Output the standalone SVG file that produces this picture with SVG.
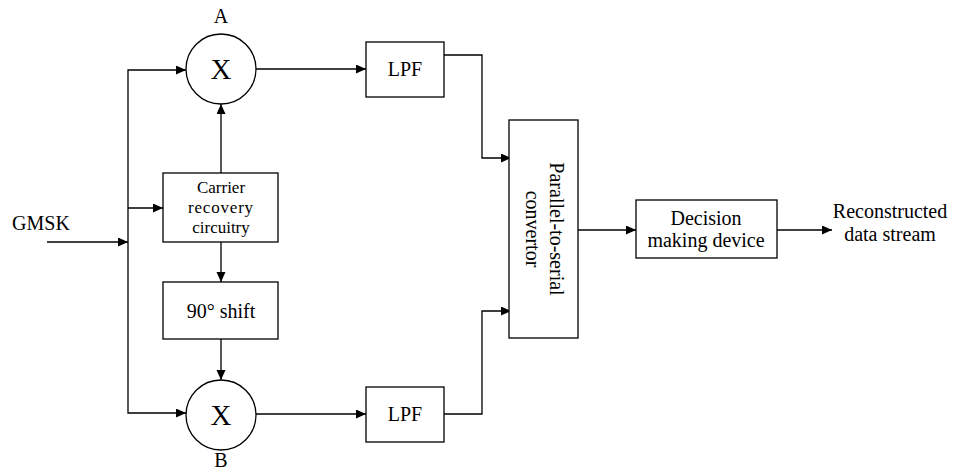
<svg xmlns="http://www.w3.org/2000/svg" width="953" height="472" viewBox="0 0 953 472" font-family="'Liberation Serif','Times New Roman',serif">
<style>
.n{fill:#fff;stroke:#000;stroke-width:1.3}
.c{fill:none;stroke:#000;stroke-width:1.3}
text{font-family:"Liberation Serif","Times New Roman",serif;fill:#000;text-anchor:middle}
.t20{font-size:20px}
.t17{font-size:17px}
.tx{font-size:29px}
</style>
<defs>
<marker id="ar" markerUnits="userSpaceOnUse" markerWidth="11" markerHeight="10" refX="10" refY="4.5" orient="auto">
<path d="M0,0 L10,4.5 L0,9 z" fill="#000"/>
</marker>
</defs>
<rect width="953" height="472" fill="#fff"/>
<g id="connectors">
<path class="c" d="M47,242 H128" marker-end="url(#ar)"/>
<path class="c" d="M128,242 V70 H186" marker-end="url(#ar)"/>
<path class="c" d="M128,242 V413 H186" marker-end="url(#ar)"/>
<path class="c" d="M128,208 H163" marker-end="url(#ar)"/>
<path class="c" d="M221,173 V104" marker-end="url(#ar)"/>
<path class="c" d="M221,242 V282" marker-end="url(#ar)"/>
<path class="c" d="M221,339 V380" marker-end="url(#ar)"/>
<path class="c" d="M256,69 H366" marker-end="url(#ar)"/>
<path class="c" d="M256,414 H366" marker-end="url(#ar)"/>
<path class="c" d="M444,55 H482 V158 H511" marker-end="url(#ar)"/>
<path class="c" d="M444,414 H482 V311 H511" marker-end="url(#ar)"/>
<path class="c" d="M578,230 H636" marker-end="url(#ar)"/>
<path class="c" d="M777,230 H832" marker-end="url(#ar)"/>
</g>
<g id="gmsk"><text class="t20" x="41" y="230">GMSK</text></g>
<g id="mixerA">
<circle class="n" cx="221" cy="69" r="35"/>
<text class="tx" x="221" y="79">X</text>
<text class="t20" x="221" y="23">A</text>
</g>
<g id="carrier">
<rect class="n" x="163" y="173" width="115" height="69"/>
<text class="t17" x="221" y="193">Carrier</text>
<text class="t17" x="221" y="213" letter-spacing="0.8">recovery</text>
<text class="t17" x="221" y="233">circuitry</text>
</g>
<g id="shift">
<rect class="n" x="163" y="282" width="115" height="57"/>
<text class="t20" x="221" y="318">90° shift</text>
</g>
<g id="mixerB">
<circle class="n" cx="221" cy="415" r="35"/>
<text class="tx" x="221" y="425">X</text>
<text class="t20" x="221" y="467">B</text>
</g>
<g id="lpf1">
<rect class="n" x="366" y="42" width="78" height="55"/>
<text class="t20" x="405" y="76">LPF</text>
</g>
<g id="lpf2">
<rect class="n" x="366" y="387" width="78" height="55"/>
<text class="t20" x="405" y="421">LPF</text>
</g>
<g id="ps">
<rect class="n" x="509" y="120" width="69" height="218"/>
<text class="t20" transform="translate(550,229) rotate(90)">Parallel-to-serial</text>
<text class="t20" transform="translate(526,229) rotate(90)">convertor</text>
</g>
<g id="decision">
<rect class="n" x="636" y="200" width="141" height="58"/>
<text class="t20" x="706" y="225">Decision</text>
<text class="t20" x="706" y="247">making device</text>
</g>
<g id="output">
<text class="t20" x="890" y="218">Reconstructed</text>
<text class="t20" x="890" y="241">data stream</text>
</g>
</svg>
